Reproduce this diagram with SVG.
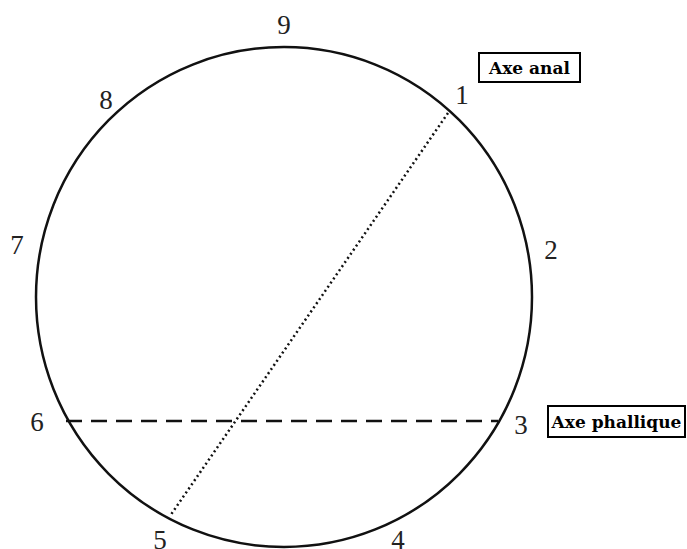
<svg xmlns="http://www.w3.org/2000/svg" width="687" height="549" viewBox="0 0 687 549">
<style>
.num{font-family:"Liberation Serif","Times New Roman",serif;font-size:27px;fill:#222;text-anchor:middle}
.lbl{font-family:"DejaVu Serif",serif;font-weight:bold;font-size:17px;fill:#000;text-anchor:middle}
.box{fill:#fff;stroke:#000;stroke-width:2}
</style>
<rect width="687" height="549" fill="#fff"/>
<g id="circle">
<ellipse cx="284" cy="297" rx="248" ry="250" fill="none" stroke="#111" stroke-width="2.5"/>
</g>
<g id="connectors">
<line x1="66" y1="421" x2="498" y2="421" stroke="#111" stroke-width="2.5" stroke-dasharray="16,9"/>
<line x1="448" y1="113" x2="170" y2="516" stroke="#111" stroke-width="2.5" stroke-dasharray="2,3"/>
</g>
<g id="numbers">
<text class="num" x="284" y="34">9</text>
<text class="num" x="462" y="104">1</text>
<text class="num" x="551" y="259">2</text>
<text class="num" x="521" y="434">3</text>
<text class="num" x="398" y="549">4</text>
<text class="num" x="160" y="549">5</text>
<text class="num" x="37" y="431">6</text>
<text class="num" x="17" y="254">7</text>
<text class="num" x="106" y="109">8</text>
</g>
<g id="axe-anal">
<rect class="box" x="479" y="53" width="101" height="29"/>
<text class="lbl" x="529.5" y="73.5">Axe anal</text>
</g>
<g id="axe-phallique">
<rect class="box" x="548" y="406" width="137" height="31"/>
<text class="lbl" x="616.5" y="427.5">Axe phallique</text>
</g>
</svg>
